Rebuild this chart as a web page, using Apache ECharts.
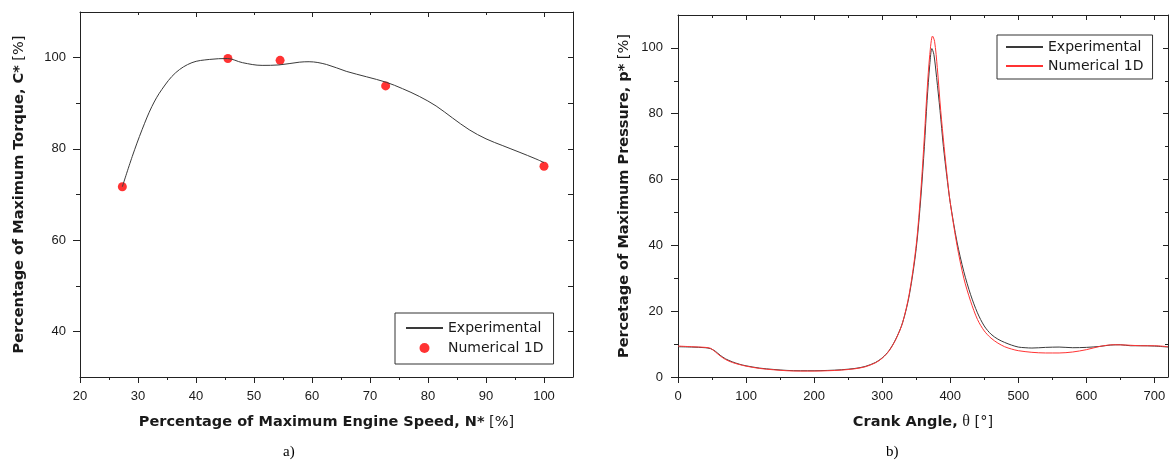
<!DOCTYPE html>
<html><head><meta charset="utf-8">
<script src="https://cdn.jsdelivr.net/npm/echarts@6/dist/echarts.min.js"></script>
<style>html,body{margin:0;padding:0;background:#fff}#c{width:1173px;height:468px}</style>
</head><body><div id="c"></div>
<script>
// ---- Chart a): torque vs engine speed ----
const speedExp  = [27.3, 29.0, 30.7, 32.4, 34.1, 36.5, 39.3, 42.3, 45.4, 48.0, 51.4, 54.3, 57.8, 59.5, 62.5, 65.9, 69.4, 72.8, 75.6, 78.5, 81.4, 84.2, 87.1, 90.0, 92.9, 95.7, 98.6, 100.0];
const torqueExp = [71.7, 78.3, 84.2, 89.3, 93.0, 96.7, 98.9, 99.6, 99.8, 98.9, 98.3, 98.4, 99.0, 99.1, 98.5, 97.0, 95.8, 94.6, 93.2, 91.5, 89.4, 86.8, 84.2, 82.2, 80.7, 79.3, 77.8, 77.0];
const speedNum  = [27.3, 45.5, 54.5, 72.7, 100.0];
const torqueNum = [71.7, 99.8, 99.4, 93.8, 76.2];
const speedMajor = [20, 30, 40, 50, 60, 70, 80, 90, 100];
const speedMinor = [25, 35, 45, 55, 65, 75, 85, 95];
const speedTopMajor = [40, 60, 80, 100];
const speedTopMinor = [30, 50, 70, 90];
const torqueMajor = [40, 60, 80, 100];
const torqueMinor = [50, 70, 90];
const torqueRight = [40, 50, 60, 70, 80, 90, 100];

// ---- Chart b): pressure vs crank angle ----
const thetaExp = [0, 20, 40, 48, 55, 62, 70, 80, 90, 100, 120, 140, 160, 180, 200, 220, 240, 260, 275, 290, 300, 310, 320, 330, 340, 350, 357, 362, 366, 370, 373, 376, 380, 385, 390, 395, 400, 410, 420, 430, 440, 450, 460, 470, 480, 490, 500, 510, 520, 540, 560, 580, 600, 620, 635, 650, 665, 680, 700, 720];
const pExp     = [9.2, 9.1, 8.9, 8.6, 7.8, 6.6, 5.5, 4.6, 3.9, 3.4, 2.7, 2.3, 2.0, 1.9, 1.9, 2.0, 2.2, 2.6, 3.2, 4.4, 5.8, 8.0, 11.5, 16.5, 25, 39, 55, 70, 84, 95, 99.8, 98, 91, 81, 70, 61, 53, 41, 32, 25, 19.5, 15.5, 13, 11.5, 10.5, 9.7, 9.1, 8.9, 8.8, 9.0, 9.1, 8.9, 9.0, 9.3, 9.7, 9.8, 9.5, 9.5, 9.4, 9.1];
const thetaNum = [0, 20, 40, 48, 55, 62, 70, 80, 90, 100, 120, 140, 160, 180, 200, 220, 240, 260, 275, 290, 300, 310, 320, 330, 340, 350, 357, 362, 366, 370, 374, 377, 381, 386, 391, 396, 400, 410, 420, 430, 440, 450, 460, 470, 480, 490, 500, 520, 540, 560, 580, 600, 620, 640, 660, 680, 700, 720];
const pNum     = [9.4, 9.2, 9.0, 8.7, 7.6, 6.4, 5.3, 4.4, 3.8, 3.3, 2.6, 2.2, 1.9, 1.8, 1.8, 1.9, 2.1, 2.5, 3.1, 4.3, 5.7, 7.9, 11.4, 16.5, 25.5, 40, 57, 73, 87, 98, 103.6, 102, 94, 81, 70, 60, 53, 40, 30, 23, 17.5, 14, 11.8, 10.3, 9.2, 8.5, 8.0, 7.5, 7.3, 7.3, 7.6, 8.3, 9.3, 9.8, 9.7, 9.5, 9.5, 9.2];
const angleMajor = [0, 100, 200, 300, 400, 500, 600, 700];
const angleMinor = [50, 150, 250, 350, 450, 550, 650];
const pressMajor = [0, 20, 40, 60, 80, 100];
const pressMinor = [10, 30, 50, 70, 90];

const zip = (a, b) => a.map((v, i) => [v, b[i]]);
const AX = '#222';
const TXT = '#1a1a1a';
const labelStyle = { fontFamily: 'Liberation Sans', fontSize: 13, color: TXT };
const titleStyle = {
  fontFamily: 'DejaVu Sans', fontSize: 14.5, color: TXT,
  rich: {
    b: { fontFamily: 'DejaVu Sans', fontWeight: 'bold', fontSize: 14.5, color: TXT },
    n: { fontFamily: 'DejaVu Sans', fontSize: 14.5, color: TXT },
    t: { fontFamily: 'Liberation Serif', fontSize: 16, color: TXT }
  }
};

function ax(o) {
  return {
    type: 'value', gridIndex: o.grid, min: o.min, max: o.max, position: o.pos,
    splitLine: { show: false },
    axisLine: { show: !!o.line, onZero: false, lineStyle: { color: AX, width: 1 } },
    axisTick: { show: true, inside: !!o.inside, length: o.len, customValues: o.ticks, lineStyle: { color: AX, width: 1 } },
    axisLabel: o.labels ? Object.assign({ show: true, customValues: o.labels, margin: o.margin }, labelStyle) : { show: false },
    name: o.name || '', nameLocation: 'middle', nameGap: o.gap || 0, nameRotate: o.rot || 0,
    nameTextStyle: titleStyle, silent: true
  };
}

const xAxes = [
  ax({ grid: 0, min: 20, max: 105, pos: 'bottom', line: 1, len: 6, ticks: speedMajor, labels: speedMajor, margin: 13,
       name: '{b|Percentage of Maximum Engine Speed, N*} {n|[%]}', gap: 38 }),
  ax({ grid: 0, min: 20, max: 105, pos: 'bottom', len: 3, ticks: speedMinor }),
  ax({ grid: 0, min: 20, max: 105, pos: 'top', line: 1, inside: 1, len: 5, ticks: speedTopMajor }),
  ax({ grid: 0, min: 20, max: 105, pos: 'top', inside: 1, len: 3, ticks: speedTopMinor }),
  ax({ grid: 1, min: 0, max: 720, pos: 'bottom', line: 1, len: 6, ticks: angleMajor, labels: angleMajor, margin: 13,
       name: '{b|Crank Angle,} {t|θ} {n|[°]}', gap: 37 }),
  ax({ grid: 1, min: 0, max: 720, pos: 'bottom', len: 3, ticks: angleMinor }),
  ax({ grid: 1, min: 0, max: 720, pos: 'top', line: 1, inside: 1, len: 5, ticks: angleMajor }),
  ax({ grid: 1, min: 0, max: 720, pos: 'top', inside: 1, len: 3, ticks: angleMinor })
];
const yAxes = [
  ax({ grid: 0, min: 30, max: 110, pos: 'left', line: 1, len: 7, ticks: torqueMajor, labels: torqueMajor, margin: 14,
       name: '{b|Percentage of Maximum Torque, C*} {n|[%]}', gap: 53, rot: 90 }),
  ax({ grid: 0, min: 30, max: 110, pos: 'left', len: 4, ticks: torqueMinor }),
  ax({ grid: 0, min: 30, max: 110, pos: 'right', line: 1, inside: 1, len: 5, ticks: torqueRight }),
  ax({ grid: 0, min: 30, max: 110, pos: 'right', inside: 1, len: 3, ticks: [] }),
  ax({ grid: 1, min: 0, max: 110, pos: 'left', line: 1, len: 7, ticks: pressMajor, labels: pressMajor, margin: 15,
       name: '{b|Percetage of Maximum Pressure, p*} {n|[%]}', gap: 46, rot: 90 }),
  ax({ grid: 1, min: 0, max: 110, pos: 'left', len: 4, ticks: pressMinor }),
  ax({ grid: 1, min: 0, max: 110, pos: 'right', line: 1, inside: 1, len: 5, ticks: pressMajor }),
  ax({ grid: 1, min: 0, max: 110, pos: 'right', inside: 1, len: 3, ticks: pressMinor })
];

const legendText = { fontFamily: 'DejaVu Sans', fontSize: 14, color: TXT, lineHeight: 16 };
const noDot = { opacity: 0 };
const option = {
  animation: false,
  backgroundColor: '#fff',
  grid: [
    { left: 80, top: 12, width: 493, height: 365, containLabel: false, outerBoundsMode: 'none' },
    { left: 678, top: 15, width: 490, height: 362, containLabel: false, outerBoundsMode: 'none' }
  ],
  xAxis: xAxes,
  yAxis: yAxes,
  legend: [
    { left: 395, top: 313, orient: 'vertical',
      data: [{ name: 'Experimental', itemStyle: noDot }, { name: 'Numerical 1D' }],
      borderColor: '#333', borderWidth: 1, borderRadius: 0, padding: [7, 10, 8, 10], itemGap: 4,
      itemWidth: 37, itemHeight: 10, textStyle: legendText, selectedMode: false, backgroundColor: '#fff' },
    { left: 997, top: 35, orient: 'vertical',
      data: [{ name: 'Experimental ', itemStyle: noDot }, { name: 'Numerical 1D ', itemStyle: noDot }],
      formatter: n => n.trim(),
      borderColor: '#333', borderWidth: 1, borderRadius: 0, padding: [4, 9, 5, 8], itemGap: 3,
      itemWidth: 37, itemHeight: 10, textStyle: legendText, selectedMode: false, backgroundColor: '#fff' }
  ],
  series: [
    { name: 'Experimental', type: 'line', xAxisIndex: 0, yAxisIndex: 0, data: zip(speedExp, torqueExp),
      smooth: 0.35, symbol: 'none', lineStyle: { color: '#3a3a3a', width: 1 }, itemStyle: { color: '#3a3a3a' } },
    { name: 'Numerical 1D', type: 'scatter', xAxisIndex: 0, yAxisIndex: 0, data: zip(speedNum, torqueNum),
      symbolSize: 9, itemStyle: { color: '#ff0000' } },
    { name: 'Experimental ', type: 'line', xAxisIndex: 4, yAxisIndex: 4, data: zip(thetaExp, pExp),
      smooth: 0.3, symbol: 'none', lineStyle: { color: '#3a3a3a', width: 1 }, itemStyle: { color: '#3a3a3a' } },
    { name: 'Numerical 1D ', type: 'line', xAxisIndex: 4, yAxisIndex: 4, data: zip(thetaNum, pNum),
      smooth: 0.3, symbol: 'none', lineStyle: { color: '#ff3333', width: 1 }, itemStyle: { color: '#ff3333' } }
  ],
  graphic: [
    { type: 'text', left: 283, top: 445, style: { text: 'a)', font: '15px "Liberation Serif"', fill: '#000' } },
    { type: 'text', left: 886, top: 445, style: { text: 'b)', font: '15px "Liberation Serif"', fill: '#000' } }
  ]
};
const chart = echarts.init(document.getElementById('c'), null, { renderer: 'canvas' });
chart.setOption(option);
</script></body></html>
